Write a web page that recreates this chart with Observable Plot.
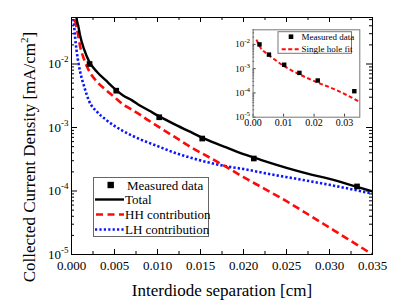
<!DOCTYPE html>
<html>
<head>
<meta charset="utf-8">
<script src="https://cdn.jsdelivr.net/npm/d3@7"></script>
<script src="https://cdn.jsdelivr.net/npm/@observablehq/plot@0.6"></script>
<style>
  html, body { margin: 0; padding: 0; background: white; }
  #wrap { position: relative; width: 399px; height: 305px; }
  #inset { position: absolute; left: 222px; top: 22px; }
  svg, svg text { font-family: "Liberation Serif", "Times New Roman", Times, "DejaVu Serif", "Noto Serif", serif !important; }
</style>
</head>
<body>
<div id="wrap"><div id="main"></div><div id="inset"></div></div>
<script>
// ---------- data ----------
const measuredX = [0.0021, 0.0052, 0.0102, 0.0152, 0.0212, 0.0332];
const measuredY = [0.0100, 0.0038, 0.00145, 0.00067, 0.000325, 0.000118];

const totalX = [0.00055, 0.0006, 0.0008, 0.001, 0.0015, 0.002, 0.003, 0.004, 0.005, 0.006, 0.007, 0.008, 0.009, 0.010, 0.012, 0.014, 0.016, 0.018, 0.020, 0.022, 0.025, 0.028, 0.030, 0.033, 0.035];
const totalY = [0.060, 0.052, 0.039, 0.028, 0.0165, 0.0113, 0.0074, 0.0055, 0.0041, 0.0032, 0.0027, 0.0022, 0.00185, 0.00155, 0.00112, 0.00083, 0.00062, 0.000485, 0.00038, 0.00031, 0.000232, 0.00018, 0.000155, 0.000118, 0.000099];

const hhX = [0.0004, 0.0006, 0.0008, 0.001, 0.0015, 0.002, 0.003, 0.004, 0.005, 0.006, 0.007, 0.008, 0.009, 0.010, 0.012, 0.014, 0.016, 0.018, 0.020, 0.022, 0.025, 0.028, 0.030, 0.032, 0.035];
const hhY = [0.050, 0.037, 0.027, 0.019, 0.0115, 0.0080, 0.0052, 0.0039, 0.0030, 0.0023, 0.00192, 0.00158, 0.00128, 0.00105, 0.00071, 0.00048, 0.00034, 0.00024, 0.000165, 0.000117, 0.000069, 0.000039, 0.0000265, 0.000018, 0.00001];

const lhX = [0.0002, 0.0004, 0.0006, 0.0008, 0.001, 0.0015, 0.002, 0.003, 0.004, 0.005, 0.006, 0.007, 0.008, 0.010, 0.012, 0.014, 0.016, 0.018, 0.020, 0.023, 0.026, 0.030, 0.035];
const lhY = [0.060, 0.028, 0.016, 0.0105, 0.0076, 0.0043, 0.0027, 0.00175, 0.00133, 0.00106, 0.00088, 0.00075, 0.00065, 0.00051, 0.00040, 0.00033, 0.00028, 0.000245, 0.000222, 0.000185, 0.000157, 0.000125, 0.000091];

const fitX = [0.0011, 0.0021, 0.0041, 0.0063, 0.0101, 0.0151, 0.0212, 0.0266, 0.0311, 0.0345];
const fitY = [0.0158, 0.0085, 0.0045, 0.0028, 0.00129, 0.00059, 0.000268, 0.000144, 0.000077, 0.000046];

const xTickLabels = ["0.000", "0.005", "0.010", "0.015", "0.020", "0.025", "0.030", "0.035"];
const yTickExps = [-5, -4, -3, -2];
const insetXTickLabels = ["0.00", "0.01", "0.02", "0.03"];

const seriesNames = ["Measured data", "Total", "HH contribution", "LH contribution"];
const insetNames = ["Measured data", "Single hole fit"];

// ---------- tables ----------
const zip = (xs, ys) => xs.map((x, i) => ({x, y: ys[i]}));
const measured = zip(measuredX, measuredY);
const total = zip(totalX, totalY);
const hh = zip(hhX, hhY);
const lh = zip(lhX, lhY);
const fit = zip(fitX, fitY);

const xMajor = xTickLabels.map(Number);
const xMinor = xMajor.slice(0, -1).map(v => v + 0.0025);
const yMajor = yTickExps.map(e => Math.pow(10, e));
const yMinor = [];
for (const e of yTickExps) for (let m = 2; m <= 9; m++) yMinor.push(m * Math.pow(10, e));

const RED = "#ff0a0a", BLUE = "#0a14ff";
const FONT = '"Liberation Serif", "Times New Roman", Times, "DejaVu Serif", serif';

// ---------- main ----------
const W = 399, H = 305, mL = 71, mR = 27, mT = 17, mB = 51;
const fw = W - mL - mR, fh = H - mT - mB;
const yMinorMain = yMinor.filter(v => v <= 0.054);

const main = Plot.plot({
  width: W, height: H,
  marginLeft: mL, marginRight: mR, marginTop: mT, marginBottom: mB,
  x: {domain: [0, 0.035]},
  y: {type: "log", domain: [1e-5, 0.054]},
  style: {fontFamily: FONT, fontSize: "13px", background: "white", color: "black"},
  marks: [
    Plot.tickX(xMajor, {x: d => d, insetTop: fh - 5, stroke: "black"}),
    Plot.tickX(xMajor, {x: d => d, insetBottom: fh - 5, stroke: "black"}),
    Plot.tickX(xMinor, {x: d => d, insetTop: fh - 3, stroke: "black"}),
    Plot.tickX(xMinor, {x: d => d, insetBottom: fh - 3, stroke: "black"}),
    Plot.tickY(yMajor, {y: d => d, insetRight: fw - 6, stroke: "black"}),
    Plot.tickY(yMajor, {y: d => d, insetLeft: fw - 6, stroke: "black"}),
    Plot.tickY(yMinorMain, {y: d => d, insetRight: fw - 3, stroke: "black"}),
    Plot.tickY(yMinorMain, {y: d => d, insetLeft: fw - 3, stroke: "black"}),
    Plot.axisX({ticks: xMajor, tickSize: 0, tickPadding: 6, fontSize: 13, tickFormat: (d, i) => xTickLabels[i], label: null}),
    Plot.axisY({ticks: yMajor, tickSize: 0, tickPadding: 3, fontSize: 13, tickFormat: d => "10|" + Math.round(Math.log10(d)), label: null}),
    Plot.line(lh, {x: "x", y: "y", stroke: BLUE, strokeWidth: 2.6, strokeDasharray: "2.3,2.1", strokeLinecap: "butt", curve: "monotone-x", clip: true}),
    Plot.line(hh, {x: "x", y: "y", stroke: RED, strokeWidth: 2.6, strokeDasharray: "7.5,4", strokeLinecap: "butt", curve: "monotone-x", clip: true}),
    Plot.line(total, {x: "x", y: "y", stroke: "black", strokeWidth: 2.4, curve: "monotone-x", clip: true}),
    Plot.dot(measured, {x: "x", y: "y", symbol: "square", r: 3.2, fill: "black", stroke: "none"}),
    Plot.frame({stroke: "black", strokeWidth: 1})
  ]
});
document.getElementById("main").appendChild(main);

function supLabels(svg, sel, supSize, shift) {
  d3.select(svg).selectAll(sel).each(function() {
    const t = this.textContent;
    if (!t.includes("|")) return;
    const [base, exp] = t.split("|");
    const el = d3.select(this);
    el.text(null);
    el.append("tspan").text(base);
    el.append("tspan").attr("font-size", supSize).attr("dy", -shift).text(exp);
  });
}
supLabels(main, 'g[aria-label="y-axis tick label"] text', 9, 6);

const ms = d3.select(main);
// axis titles
const yl = ms.append("text")
  .attr("transform", "translate(35,157) rotate(-90)")
  .attr("text-anchor", "middle").attr("font-size", 17).attr("fill", "black");
yl.append("tspan").text("Collected Current Density [mA/cm");
yl.append("tspan").attr("font-size", 11).attr("dy", -7).text("2");
yl.append("tspan").attr("dy", 7).text("]");
ms.append("text").attr("x", 222).attr("y", 296)
  .attr("text-anchor", "middle").attr("font-size", 17).attr("fill", "black")
  .text("Interdiode separation [cm]");

// legend
const lg = ms.append("g").attr("font-size", 13).attr("fill", "black").attr("text-anchor", "start");
lg.append("rect").attr("x", 93.5).attr("y", 177.5).attr("width", 115).attr("height", 59)
  .attr("fill", "white").attr("stroke", "#666").attr("stroke-width", 1);
const rows = [185, 199.5, 214.5, 229.5];
lg.append("rect").attr("x", 107.5).attr("y", rows[0] - 3.2).attr("width", 6.4).attr("height", 6.4).attr("fill", "black");
lg.append("line").attr("x1", 95).attr("x2", 124).attr("y1", rows[1]).attr("y2", rows[1]).attr("stroke", "black").attr("stroke-width", 2.4);
lg.append("line").attr("x1", 96).attr("x2", 124).attr("y1", rows[2]).attr("y2", rows[2]).attr("stroke", RED).attr("stroke-width", 2.4).attr("stroke-dasharray", "7,4.5");
lg.append("line").attr("x1", 95).attr("x2", 124).attr("y1", rows[3]).attr("y2", rows[3]).attr("stroke", BLUE).attr("stroke-width", 2.4).attr("stroke-dasharray", "2.2,2.2");
seriesNames.forEach((s, i) => {
  lg.append("text").attr("x", i === 0 ? 127 : 125).attr("y", rows[i]).attr("dy", "0.35em").attr("text-anchor", "start").text(s);
});

// ---------- inset ----------
const iW = 145, iH = 110, iL = 30.6, iR = 7.7, iT = 7.3, iB = 15.3;
const ifw = iW - iL - iR, ifh = iH - iT - iB;
const insetXMajor = insetXTickLabels.map(Number);
const yMinorInset = yMinor.filter(v => v <= 0.04);
const inset = Plot.plot({
  width: iW, height: iH,
  marginLeft: iL, marginRight: iR, marginTop: iT, marginBottom: iB,
  x: {domain: [0, 0.035]},
  y: {type: "log", domain: [1e-5, 0.04]},
  style: {fontFamily: FONT, fontSize: "10px", background: "transparent", color: "black", overflow: "visible"},
  marks: [
    Plot.tickX(insetXMajor, {x: d => d, insetTop: ifh - 3, stroke: "#444"}),
    Plot.tickY(yMajor, {y: d => d, insetRight: ifw - 3, stroke: "#444"}),
    Plot.tickY(yMinorInset, {y: d => d, insetRight: ifw - 1.5, stroke: "#444"}),
    Plot.axisX({ticks: insetXMajor, tickSize: 0, tickPadding: 2, fontSize: 10, tickFormat: (d, i) => insetXTickLabels[i], label: null}),
    Plot.axisY({ticks: yMajor, tickSize: 0, tickPadding: 3, fontSize: 9, tickFormat: d => "10|" + Math.round(Math.log10(d)), label: null}),
    Plot.line(fit, {x: "x", y: "y", stroke: RED, strokeWidth: 2, strokeDasharray: "4,2.5", strokeLinecap: "butt", curve: "monotone-x", clip: true}),
    Plot.dot(measured, {x: "x", y: "y", symbol: "square", r: 2.5, fill: "black", stroke: "none"}),
    Plot.frame({stroke: "#777", strokeWidth: 1})
  ]
});
document.getElementById("inset").appendChild(inset);
supLabels(inset, 'g[aria-label="y-axis tick label"] text', 7, 4);

const is = d3.select(inset);
const ilg = is.append("g").attr("font-size", 9).attr("fill", "black").attr("text-anchor", "start");
// legend box, in inset pixel coordinates (inset placed at 222,22)
ilg.append("rect").attr("x", 56).attr("y", 9.7).attr("width", 73.5).attr("height", 21.6)
  .attr("fill", "white").attr("stroke", "#777").attr("stroke-width", 1);
ilg.append("rect").attr("x", 66.7).attr("y", 12.4).attr("width", 4.6).attr("height", 4.6).attr("fill", "black");
ilg.append("line").attr("x1", 59.7).attr("x2", 78).attr("y1", 27.3).attr("y2", 27.3)
  .attr("stroke", RED).attr("stroke-width", 2).attr("stroke-dasharray", "4,2.5");
insetNames.forEach((s, i) => {
  ilg.append("text").attr("x", 79.5).attr("y", i === 0 ? 14.7 : 27.3).attr("dy", "0.35em").attr("text-anchor", "start").text(s);
});
</script>
</body>
</html>
